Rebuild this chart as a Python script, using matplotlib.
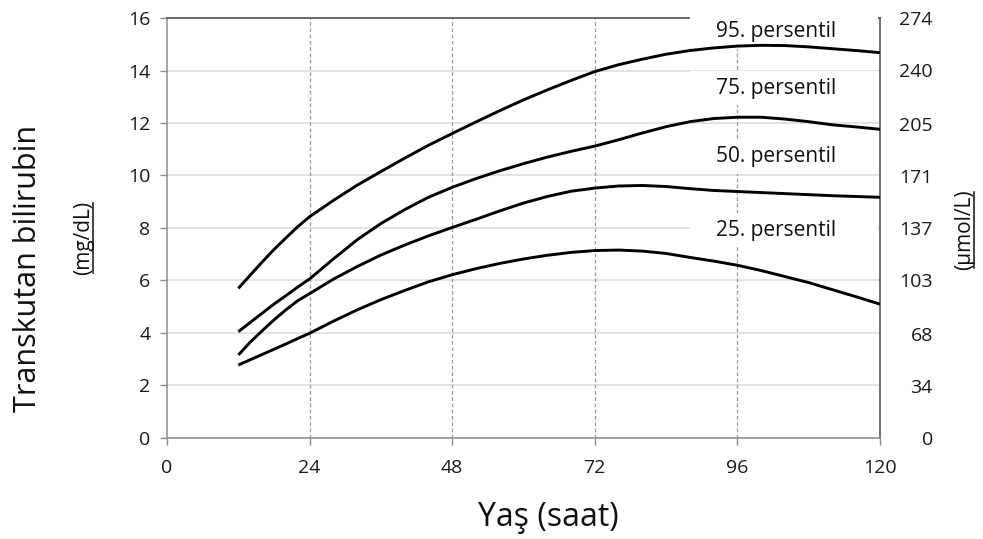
import matplotlib
matplotlib.use("Agg")
import matplotlib.pyplot as plt
from matplotlib.patches import Rectangle
from matplotlib.lines import Line2D

plt.rcParams['font.family'] = ['Open Sans', 'DejaVu Sans']

# age in hours
hours = [12, 14, 16, 18, 20, 22, 24, 28, 32, 36, 40, 44, 48, 52, 56, 60,
         64, 68, 72, 76, 80, 84, 88, 92, 96, 100, 104, 108, 112, 116, 120]

# transcutaneous bilirubin, mg/dL
p95 = [5.70, 6.20, 6.70, 7.18, 7.62, 8.05, 8.43, 9.05, 9.63, 10.15, 10.66, 11.15,
       11.60, 12.04, 12.47, 12.88, 13.26, 13.62, 13.96, 14.22, 14.43, 14.62, 14.76,
       14.86, 14.93, 14.96, 14.95, 14.90, 14.83, 14.76, 14.68]
p75 = [4.05, 4.40, 4.75, 5.10, 5.42, 5.75, 6.06, 6.82, 7.55, 8.17, 8.70, 9.17,
       9.55, 9.88, 10.18, 10.45, 10.70, 10.92, 11.12, 11.36, 11.62, 11.86, 12.05,
       12.17, 12.22, 12.22, 12.15, 12.05, 11.93, 11.85, 11.76]
p50 = [3.16, 3.65, 4.08, 4.50, 4.88, 5.23, 5.50, 6.05, 6.53, 6.97, 7.35, 7.70,
       8.02, 8.33, 8.65, 8.95, 9.20, 9.40, 9.52, 9.60, 9.62, 9.58, 9.50, 9.43,
       9.39, 9.35, 9.31, 9.27, 9.23, 9.20, 9.17]
p25 = [2.78, 2.98, 3.18, 3.38, 3.58, 3.79, 3.99, 4.45, 4.88, 5.27, 5.62, 5.95,
       6.22, 6.45, 6.65, 6.82, 6.96, 7.07, 7.14, 7.16, 7.12, 7.03, 6.88, 6.74,
       6.58, 6.38, 6.15, 5.92, 5.65, 5.38, 5.10]

curves = [p95, p75, p50, p25]
labels = ['95. persentil', '75. persentil', '50. persentil', '25. persentil']
label_y = [15.47, 13.33, 10.72, 7.92]
label_x = 92.4

xticks = [0, 24, 48, 72, 96, 120]
yticks = [0, 2, 4, 6, 8, 10, 12, 14, 16]
umol_ticks = [0, 34, 68, 103, 137, 171, 205, 240, 274]

fig = plt.figure(figsize=(9.83, 5.39), dpi=100)
ax = fig.add_axes([0.1699, 0.1874, 0.7253, 0.7792])

ax.set_xlim(0, 120)
ax.set_ylim(0, 16)
ax.set_axisbelow(True)
ax.set_xticks(xticks)
ax.set_yticks(yticks)
ax.yaxis.grid(True, color='#dedede', lw=1.2, ls='-')
for h in xticks[1:-1]:
    ax.axvline(h, color='#9a9a9a', lw=0.9, ls=(0, (3, 2)), zorder=0.6)

for s in ['left', 'bottom']:
    ax.spines[s].set_color('#8c8c8c')
    ax.spines[s].set_linewidth(1.1)
for s in ['top', 'right']:
    ax.spines[s].set_color('#555555')
    ax.spines[s].set_linewidth(1.2)

ax.tick_params(axis='both', colors='#8c8c8c', labelcolor='#1a1a1a',
               labelsize=14, length=5, width=1)
ax.tick_params(axis='y', pad=7)
ax.tick_params(axis='x', pad=10)

# white boxes behind the percentile labels
for y in label_y:
    ax.add_patch(Rectangle((label_x - 4.4, y - 0.66), 119.6 - (label_x - 4.4), 1.32,
                           facecolor='white', edgecolor='none', zorder=2.6,
                           clip_on=False))

for vals in curves:
    ax.plot(hours, vals, color='black', lw=2.1, zorder=3, solid_capstyle='butt')

for txt, y in zip(labels, label_y):
    ax.text(label_x, y, txt, fontsize=15, color='#111111', va='center',
            ha='left', zorder=4)

ax2 = ax.twinx()
ax2.set_ylim(0, 274)
ax2.set_yticks(umol_ticks)
ax2.set_yticklabels([str(v) for v in umol_ticks])
ax2.tick_params(axis='y', length=0, pad=38, labelsize=14, labelcolor='#1a1a1a')
for lab in ax2.get_yticklabels():
    lab.set_horizontalalignment('right')
for s in ax2.spines.values():
    s.set_visible(False)

fig.text(548 / 983, 1 - 518 / 539, 'Yaş (saat)', fontsize=23, ha='center',
         va='center', color='#111111')
fig.text(28 / 983, 1 - 268 / 539, 'Transkutan bilirubin', fontsize=22,
         rotation=90, ha='center', va='center', color='#111111')
t1 = fig.text(84 / 983, 1 - 238 / 539, '(mg/dL)', fontsize=15, rotation=90,
              ha='center', va='center', color='#111111')
t2 = fig.text(965 / 983, 1 - 230 / 539, '(µmol/L)', fontsize=15, rotation=90,
              ha='center', va='center', color='#111111')

# underline the unit labels
fig.canvas.draw()
for t in [t1, t2]:
    bb = t.get_window_extent().transformed(fig.transFigure.inverted())
    fig.add_artist(Line2D([bb.x1 - 0.002, bb.x1 - 0.002], [bb.y0 + 0.004, bb.y1 - 0.004],
                          color='#111111', lw=1.1, transform=fig.transFigure))

fig.savefig('out.png', dpi=100)
